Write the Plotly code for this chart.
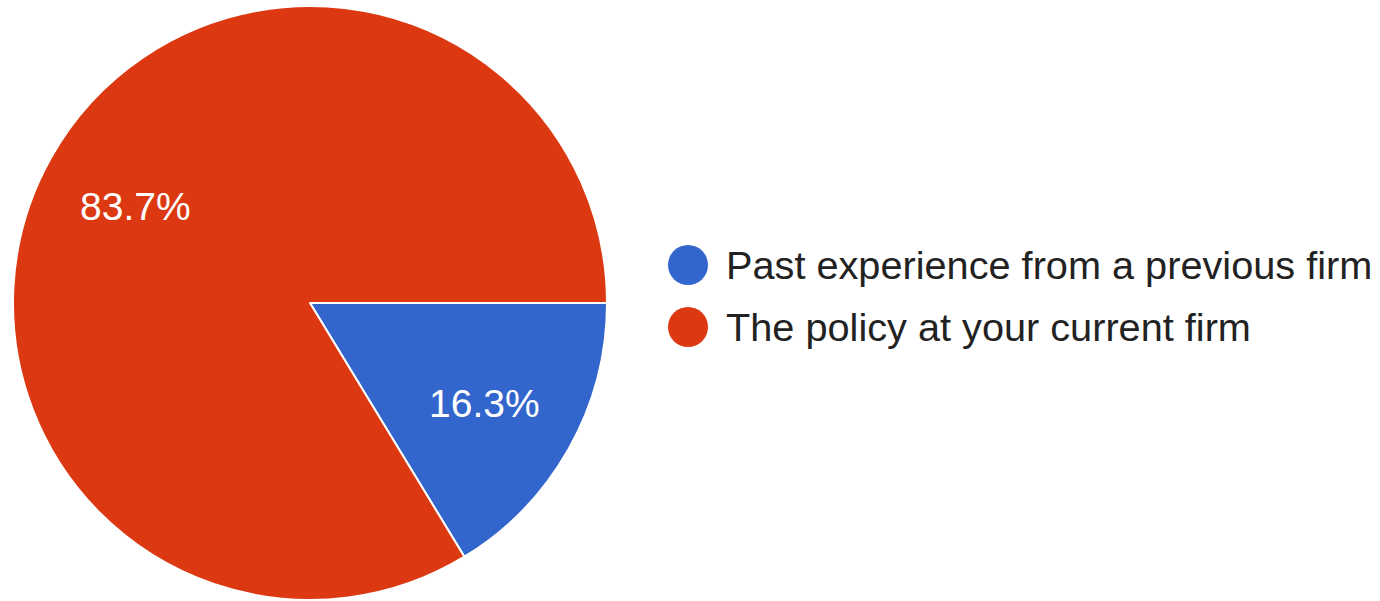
import math
import plotly.graph_objects as go

categories = ["Past experience from a previous firm", "The policy at your current firm"]
values = [16.3, 83.7]
colors = ["#3366CC", "#DC3912"]

W, H = 1380, 601
FONT = "Liberation Sans, Arial, Helvetica, sans-serif"

# pie geometry (pixels from top-left)
cx, cy, R = 310, 303, 297

fig = go.Figure()
fig.add_trace(go.Pie(
    labels=categories,
    values=values,
    sort=False,
    direction="clockwise",
    rotation=90,
    marker=dict(colors=colors, line=dict(color="white", width=2)),
    textinfo="none",
    showlegend=False,
    hoverinfo="label+percent",
    domain=dict(x=[(cx - R) / W, (cx + R) / W], y=[1 - (cy + R) / H, 1 - (cy - R) / H]),
))

# percentage labels placed at each slice's mid-angle (Google Charts style)
total = sum(values)
cum = 0.0
for v in values:
    mid = (cum + v / 2) / total
    cum += v
    theta = 2 * math.pi * mid  # clockwise from 3 o'clock
    lx = cx + 0.675 * R * math.cos(theta)
    ly = cy + 0.675 * R * math.sin(theta) + 2
    fig.add_annotation(xref="paper", yref="paper", x=lx / W, y=1 - ly / H,
                       text=f"{v / total * 100:.1f}%", showarrow=False,
                       xanchor="center", yanchor="middle",
                       font=dict(family=FONT, size=39, color="white"))

# custom legend (circle symbols like the original)
legend_x = 688
legend_y0 = 265
legend_dy = 62
r = 20
for i, (cat, col) in enumerate(zip(categories, colors)):
    yy = legend_y0 + i * legend_dy
    fig.add_shape(type="circle", xref="paper", yref="paper",
                  x0=(legend_x - r) / W, x1=(legend_x + r) / W,
                  y0=1 - (yy + r) / H, y1=1 - (yy - r) / H,
                  fillcolor=col, line=dict(width=0))
    fig.add_annotation(xref="paper", yref="paper", x=724 / W, y=1 - yy / H,
                       text=cat, showarrow=False, xanchor="left", yanchor="middle",
                       font=dict(family=FONT, size=39.7, color="#222222"))

fig.update_layout(
    width=W, height=H,
    margin=dict(l=0, r=0, t=0, b=0),
    paper_bgcolor="white",
    plot_bgcolor="white",
)

fig.write_html("out.html", config={"displayModeBar": False},
               post_script="document.body.style.margin='0';")
